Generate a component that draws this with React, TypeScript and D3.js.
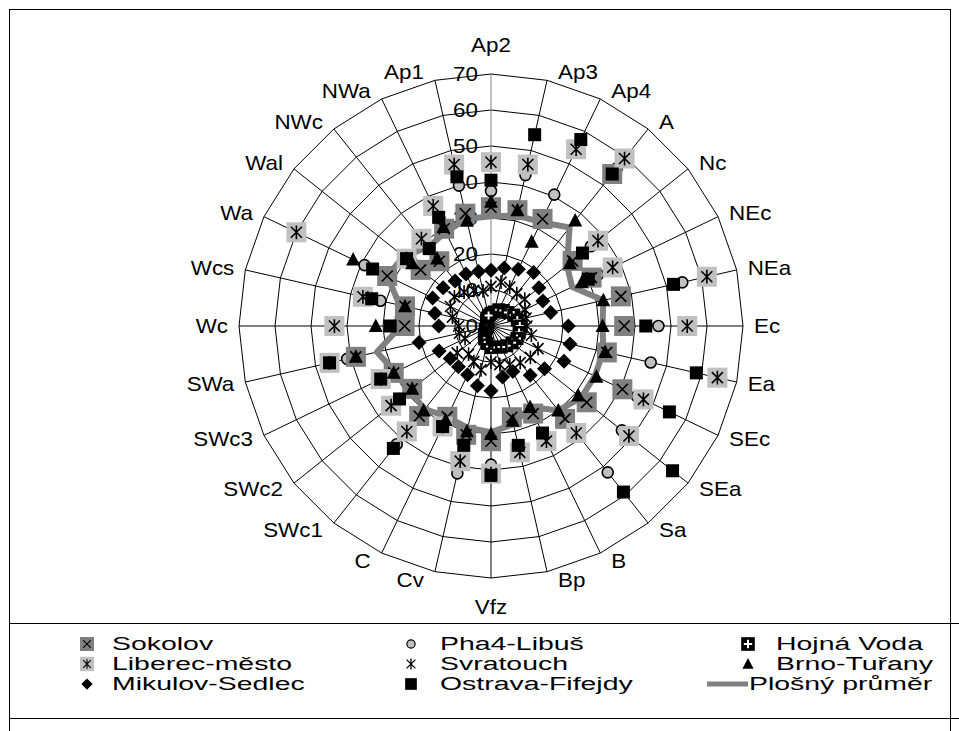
import React from "react";
import * as d3 from "d3";

// weather types, clockwise from the top
const categories = ["Ap2", "Ap3", "Ap4", "A", "Nc", "NEc", "NEa", "Ec", "Ea", "SEc", "SEa", "Sa", "B", "Bp", "Vfz", "Cv", "C", "SWc1", "SWc2", "SWc3", "SWa", "Wc", "Wcs", "Wa", "Wal", "NWc", "NWa", "Ap1"];

const ticks = [0, 10, 20, 30, 40, 50, 60, 70];

const sokolov = [33, 33, 33, 54, 29, 31, 37, 37, 33, 40.5, 34, 33, 27, 26, 32, 31, 28, 32, 28, 30, 38.5, 24, 24.5, 32, 25, 23, 30, 32];
const liberec = [45.5, 46, 54.5, 59.5, 38, 37.5, 61.5, 54.5, 64.5, 47, 49, 38, 35.5, 36, 41, 38.5, 31, 37.5, 35.5, 34, 46, 43.5, 36.5, 60, 30, 31, 37, 46];
const mikulov = [15.5, 16.5, 17.5, 19, 17, 16, 17, 21.5, 22.5, 22.5, 19, 17.5, 14, 14.5, 18, 17, 15, 14.5, 14.5, 16, 20.5, 14.5, 16, 18, 17, 16, 16, 15.5];
const pha4 = [37.5, 43, 40.5, 56, 35.5, 33, 54.5, 46.5, 45.5, 45, 46.5, 52, 34, 34, 38.5, 42, 31, 42, 32.5, 33, 41, 27, 31.5, 39, 28, 28, 33, 40];
const svratouch = [11, 12.5, 12, 11.5, 12, 10.5, 10, 10, 11.5, 14.5, 14, 13, 12, 11, 10, 12.5, 11, 10, 12, 8, 9, 9, 11, 12.5, 13, 12, 11, 10];
const ostrava = [40.5, 54.5, 57.5, 54, 32.5, 30, 52, 43, 58.5, 55, 64.5, 59, 33, 34, 41.5, 34, 31, 43.5, 32.5, 34, 46, 28, 34, 36.5, 30, 27.5, 33.5, 42.5];
const hojna = [3.5, 4, 5, 5.5, 6, 7, 7.5, 8, 8, 8, 7.5, 7, 6.5, 6, 6, 5, 4, 3, 2, 1.5, 1, 1, 1, 1, 1.5, 2, 2.5, 3];
const brno = [34.5, 33, 26, 37.5, 28, 28, 32, 31, 32.5, 32.5, 31, 30, 25, 27, 30, 30, 29, 30, 28, 30, 38.5, 32, 24.5, 42.5, 28, 24, 30.5, 30];
const prumer = [30.5, 31.5, 32, 35, 27, 25, 32, 31, 32, 32, 32, 30, 25, 28, 29.5, 29, 28, 29.5, 29, 29.5, 32.5, 25, 26, 32, 31, 28, 29, 30.5];

const FONT = "'Liberation Sans', Arial, sans-serif";
const cx = 491;
const cy = 326;

const r = d3.scaleLinear().domain([0, 70]).range([0, 252]);
const angle = d3
  .scaleLinear()
  .domain([0, categories.length])
  .range([0, 2 * Math.PI]);

function pt(i: number, v: number) {
  const a = angle(i);
  return [cx + r(v) * Math.sin(a), cy - r(v) * Math.cos(a)];
}

const asterisk = (s: number) =>
  `M${-s},${-s}L${s},${s}M${-s},${s}L${s},${-s}M0,${-s * 1.25}L0,${s * 1.25}`;
const cross = (s: number) => `M${-s},${-s}L${s},${s}M${-s},${s}L${s},${-s}`;

// wide text, as in the original export
function Label({ x, y, anchor = "start", size = 20, sx = 1.12, children }: any) {
  return (
    <text
      transform={`translate(${x},${y}) scale(${sx},1)`}
      dy="0.35em"
      textAnchor={anchor}
      fontSize={size}
    >
      {children}
    </text>
  );
}

function Marker({ type, x, y, k = 1 }: { type: string; x: number; y: number; k?: number }) {
  const t = `translate(${x},${y}) scale(${k})`;
  if (type === "xbox")
    return (
      <g transform={t}>
        <rect x={-10} y={-10} width={20} height={20} fill="#808080" />
        <path d={cross(5.5)} stroke="#000" strokeWidth={1.6} />
      </g>
    );
  if (type === "starbox")
    return (
      <g transform={t}>
        <rect x={-10} y={-10} width={20} height={20} fill="#c0c0c0" />
        <path d={asterisk(5.5)} stroke="#000" strokeWidth={1.6} />
      </g>
    );
  if (type === "diamond")
    return <path transform={t} d="M0,-7.5L7.5,0L0,7.5L-7.5,0Z" fill="#000" />;
  if (type === "circle")
    return <circle transform={t} r={5.5} fill="#c0c0c0" stroke="#000" strokeWidth={1.6} />;
  if (type === "star")
    return <path transform={t} d={asterisk(5.5)} stroke="#000" strokeWidth={1.6} fill="none" />;
  if (type === "square")
    return <rect transform={t} x={-6.5} y={-6.5} width={13} height={13} fill="#000" />;
  if (type === "plus")
    return (
      <g transform={t}>
        <rect x={-6.5} y={-6.5} width={13} height={13} fill="#000" />
        <path d="M-4,0L4,0M0,-4L0,4" stroke="#fff" strokeWidth={2} />
      </g>
    );
  if (type === "triangle")
    return <path transform={t} d="M0,-7.5L7,6L-7,6Z" fill="#000" />;
  return null;
}

// drawing order in the plot
const series = [
  { name: "Pha4-Libuš", values: pha4, marker: "circle" },
  { name: "Sokolov", values: sokolov, marker: "xbox" },
  { name: "Liberec-město", values: liberec, marker: "starbox" },
  { name: "Mikulov-Sedlec", values: mikulov, marker: "diamond" },
  { name: "Svratouch", values: svratouch, marker: "star" },
  { name: "Hojná Voda", values: hojna, marker: "plus" },
  { name: "Ostrava-Fifejdy", values: ostrava, marker: "square" },
  { name: "Brno-Tuřany", values: brno, marker: "triangle" },
];

const legendItems = [
  { name: "Sokolov", marker: "xbox", col: 0, row: 0 },
  { name: "Liberec-město", marker: "starbox", col: 0, row: 1 },
  { name: "Mikulov-Sedlec", marker: "diamond", col: 0, row: 2 },
  { name: "Pha4-Libuš", marker: "circle", col: 1, row: 0 },
  { name: "Svratouch", marker: "star", col: 1, row: 1 },
  { name: "Ostrava-Fifejdy", marker: "square", col: 1, row: 2 },
  { name: "Hojná Voda", marker: "plus", col: 2, row: 0 },
  { name: "Brno-Tuřany", marker: "triangle", col: 2, row: 1 },
  { name: "Plošný průměr", marker: "line", col: 2, row: 2 },
];

const legendScale: Record<string, number> = {
  xbox: 0.7,
  starbox: 0.7,
  diamond: 0.75,
  circle: 0.75,
  star: 0.8,
  square: 0.9,
  plus: 1.05,
  triangle: 0.8,
};

export default function App() {
  const ringLine = d3
    .lineRadial<number>()
    .angle((_, i) => angle(i))
    .radius((d) => r(d))
    .curve(d3.curveLinearClosed);

  const colX = [87, 411, 748];
  const textX = [112, 440, 776];
  const rowY = [644, 664, 684];

  return (
    <svg
      width={959}
      height={731}
      style={{ position: "absolute", left: 0, top: 0, fontFamily: FONT }}
    >
      <rect x={0} y={0} width={959} height={731} fill="#fff" />
      <rect x={9.5} y={9.5} width={941} height={760} fill="#fff" stroke="#000" />

      {/* grid rings */}
      <g transform={`translate(${cx},${cy})`}>
        {ticks.slice(1).map((t) => (
          <path key={t} d={ringLine(categories.map(() => t)) || ""} fill="none" stroke="#000" strokeWidth={1} />
        ))}
      </g>
      {/* spokes */}
      {categories.map((c, i) => {
        const [x, y] = pt(i, 70);
        return <line key={c} x1={cx} y1={cy} x2={x} y2={y} stroke={i === 0 ? "#808080" : "#000"} strokeWidth={1} />;
      })}

      {/* category labels */}
      {categories.map((c, i) => {
        const a = angle(i);
        const dx = Math.sin(a);
        const dy = -Math.cos(a);
        const [vx, vy] = pt(i, 70);
        let anchor = "middle";
        let x = vx;
        let y = vy;
        if (dx > 0.1) {
          anchor = "start";
          x = vx + 11;
          y = vy + dy * 9;
        } else if (dx < -0.1) {
          anchor = "end";
          x = vx - 11;
          y = vy + dy * 9;
        } else {
          y = vy + dy * 29;
        }
        return (
          <Label key={c} x={x} y={y} anchor={anchor}>
            {c}
          </Label>
        );
      })}

      {/* value axis labels */}
      {ticks.map((t) => (
        <Label key={t} x={478} y={cy - r(t)} anchor="end">
          {t}
        </Label>
      ))}

      {/* area average */}
      <path
        transform={`translate(${cx},${cy})`}
        d={ringLine(prumer) || ""}
        fill="none"
        stroke="#808080"
        strokeWidth={6}
        strokeLinejoin="round"
      />

      {series.map((s) => (
        <g key={s.name}>
          {s.values.map((v, i) => {
            const [x, y] = pt(i, v);
            return <Marker key={i} type={s.marker} x={x} y={y} />;
          })}
        </g>
      ))}

      {/* legend */}
      <rect x={9.5} y={623.5} width={980} height={95} fill="#fff" stroke="#000" />
      {legendItems.map((d) => (
        <g key={d.name}>
          {d.marker === "line" ? (
            <line x1={707} x2={748} y1={rowY[d.row]} y2={rowY[d.row]} stroke="#808080" strokeWidth={5} />
          ) : (
            <Marker type={d.marker} x={colX[d.col]} y={rowY[d.row]} k={legendScale[d.marker]} />
          )}
          <Label x={d.marker === "line" ? 749 : textX[d.col]} y={rowY[d.row]} size={18} sx={1.58}>
            {d.name}
          </Label>
        </g>
      ))}
      <line x1={950.5} y1={9} x2={950.5} y2={731} stroke="#000" />
    </svg>
  );
}
